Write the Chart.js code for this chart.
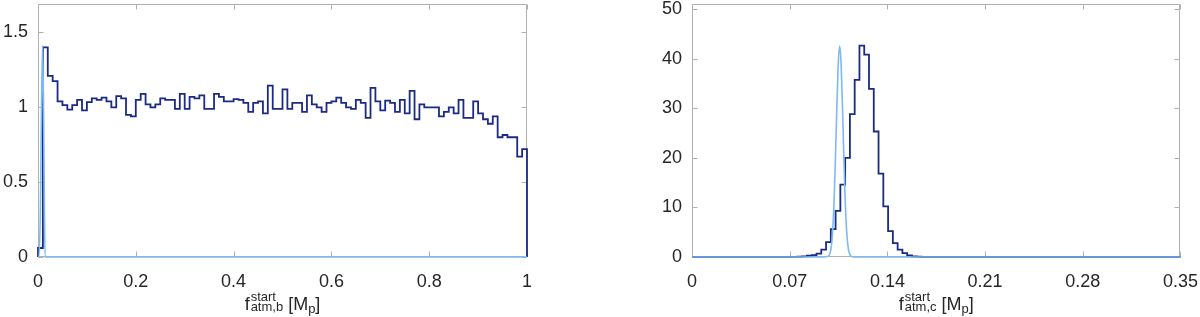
<!DOCTYPE html>
<html>
<head>
<meta charset="utf-8">
<script src="https://cdn.jsdelivr.net/npm/chart.js@4.4.1/dist/chart.umd.min.js"></script>
<style>
html, body { margin: 0; padding: 0; background: #fff; }
#wrap { position: relative; width: 1200px; height: 317px; overflow: hidden; }
.panel { position: absolute; top: 0; height: 317px; }
#pb { left: 0; width: 580px; }
#pc { left: 580px; width: 632px; }
</style>
</head>
<body>
<div id="wrap">
  <div class="panel" id="pb"><canvas id="cb"></canvas></div>
  <div class="panel" id="pc"><canvas id="cc"></canvas></div>
</div>
<script>
// left panel: posterior histogram of f_atm,b (100 bins of 0.01) and prior spike
const binStartB = 0;
const binWidthB = 0.01;
const densB = [
  0.06, 1.40, 1.21, 1.175, 1.04, 1.015, 0.985, 1.015, 1.05, 0.98,
  1.035, 1.06, 1.05, 1.065, 1.04, 1.00, 1.075, 1.06, 0.95, 0.94,
  1.05, 1.09, 1.02, 1.00, 1.02, 1.06, 1.05, 1.05, 0.99, 1.09,
  0.99, 1.07, 1.06, 1.08, 0.99, 0.99, 1.09, 1.07, 1.04, 1.04,
  1.055, 1.05, 1.03, 0.97, 1.03, 1.04, 0.96, 1.145, 0.99, 0.99,
  1.12, 0.99, 1.03, 1.03, 0.97, 1.08, 1.02, 1.00, 0.97, 1.03,
  1.04, 1.065, 1.03, 1.00, 0.99, 1.05, 1.03, 0.93, 1.13, 1.04,
  0.98, 1.045, 1.03, 0.97, 1.05, 0.96, 1.11, 0.92, 1.02, 1.00,
  1.00, 1.00, 0.94, 0.97, 1.00, 0.96, 1.05, 0.93, 0.93, 1.04,
  0.96, 0.92, 0.89, 0.94, 0.80, 0.815, 0.80, 0.80, 0.67, 0.72
];
const priorBx = [0, 0.002, 0.005, 0.007, 0.0093, 0.0115, 0.013, 0.0145, 1];
const priorBy = [0, 0, 0.35, 0.95, 1.41, 0.95, 0.35, 0, 0];
const xTicksB = [0, 0.2, 0.4, 0.6, 0.8, 1];
const xLabelsB = ['0', '0.2', '0.4', '0.6', '0.8', '1'];
const yTicksB = [0, 0.5, 1, 1.5];
const yLabelsB = ['0', '0.5', '1', '1.5'];

// right panel: posterior histogram of f_atm,c and gaussian prior
const binStartC = 0.0721;
const binWidthC = 0.00342;
const densC = [
  0.02, 0.05, 0.12, 0.25, 0.35, 0.7, 1.5, 3.0, 5.6, 9.3,
  14.6, 20.0, 28.8, 35.7, 42.6, 40.8, 33.9, 25.3, 16.8, 10.2,
  5.2, 2.8, 1.5, 0.8, 0.3, 0.1, 0.05
];
const priorCx = [0, 0.094, 0.0977, 0.0997, 0.1007, 0.1017, 0.1027, 0.1037, 0.1047, 0.1058,
  0.1067, 0.1077, 0.1087, 0.1097, 0.1107, 0.1117, 0.1127, 0.1147, 0.118, 0.35];
const priorCy = [0, 0, 0.18, 1.9, 4.9, 10.5, 19.1, 29.4, 38.4, 42.5,
  39.7, 31.5, 21.1, 12.0, 5.7, 2.3, 0.8, 0.06, 0, 0];
const xTicksC = [0, 0.07, 0.14, 0.21, 0.28, 0.35];
const xLabelsC = ['0', '0.07', '0.14', '0.21', '0.28', '0.35'];
const yTicksC = [0, 10, 20, 30, 40, 50];
const yLabelsC = ['0', '10', '20', '30', '40', '50'];

const darkBlue = '#1b2a84';
const lightBlue = '#7dbaf4';
const boxColor = '#b0b0b0';
const textColor = '#262626';
const fontFam = '"Liberation Sans", Arial, Helvetica, sans-serif';

// outline points at the bin edges; drawn with stepped 'before' (horizontal first)
function histPoints(start, width, vals, xmin, xmax) {
  const pts = [{x: xmin, y: 0}, {x: start, y: 0}];
  vals.forEach((v, i) => pts.push({x: start + i * width, y: v}));
  const end = start + vals.length * width;
  pts.push({x: end, y: vals[vals.length - 1]});
  pts.push({x: end, y: 0});
  pts.push({x: xmax, y: 0});
  return pts;
}

function zipPoints(xs, ys) {
  return xs.map((x, i) => ({x: x, y: ys[i]}));
}

// MATLAB style box with inward tick marks on all four sides
const boxPlugin = {
  id: 'boxPlugin',
  beforeDatasetsDraw(chart) {
    const ctx = chart.ctx;
    const a = chart.chartArea;
    const xs = chart.scales.x, ys = chart.scales.y;
    const tl = 5;
    ctx.save();
    ctx.strokeStyle = boxColor;
    ctx.lineWidth = 1;
    ctx.beginPath();
    const L = Math.round(a.left) + 0.5, R = Math.round(a.right) - 0.5;
    const T = Math.round(a.top) + 0.5, B = Math.round(a.bottom) - 0.5;
    ctx.rect(L, T, R - L, B - T);
    xs.ticks.forEach(t => {
      const px = Math.round(xs.getPixelForValue(t.value)) + 0.5;
      ctx.moveTo(px, B); ctx.lineTo(px, B - tl);
      ctx.moveTo(px, T); ctx.lineTo(px, T + tl);
    });
    ys.ticks.forEach(t => {
      const py = Math.round(ys.getPixelForValue(t.value)) + 0.5;
      ctx.moveTo(L, py); ctx.lineTo(L + tl, py);
      ctx.moveTo(R, py); ctx.lineTo(R - tl, py);
    });
    ctx.stroke();
    ctx.restore();
  }
};

// x axis label f^{start}_{atm,x} [M_p] with super/subscripts
const labelPlugin = {
  id: 'labelPlugin',
  afterDraw(chart, args, opts) {
    const ctx = chart.ctx;
    const a = chart.chartArea;
    const main = '18px ' + fontFam;
    const small = '13px ' + fontFam;
    const base = 310;
    ctx.save();
    ctx.fillStyle = textColor;
    ctx.textBaseline = 'alphabetic';
    ctx.textAlign = 'left';
    ctx.font = main;
    const wf = ctx.measureText('f').width;
    const wb = ctx.measureText(' [M').width;
    const wc = ctx.measureText(']').width;
    ctx.font = small;
    const wsup = ctx.measureText('start').width;
    const wsub = ctx.measureText(opts.sub).width;
    const wp = ctx.measureText('p').width;
    const ws = Math.max(wsup, wsub);
    const total = wf + 1 + ws + wb + wp + wc;
    let x = (a.left + a.right) / 2 - total / 2;
    ctx.font = main;
    ctx.fillText('f', x, base);
    x += wf + 1;
    ctx.font = small;
    ctx.fillText('start', x, base - 9);
    ctx.fillText(opts.sub, x, base + 1);
    x += ws;
    ctx.font = main;
    ctx.fillText(' [M', x, base);
    x += wb;
    ctx.font = small;
    ctx.fillText('p', x, base + 3);
    x += wp;
    ctx.font = main;
    ctx.fillText(']', x, base);
    ctx.restore();
  }
};

function makeChart(id, cfg) {
  return new Chart(document.getElementById(id), {
    type: 'line',
    data: {
      datasets: [
        {
          data: cfg.prior,
          borderColor: lightBlue,
          borderWidth: 1.6,
          pointRadius: 0,
          fill: false,
          cubicInterpolationMode: 'monotone',
          clip: false
        },
        {
          data: cfg.hist,
          borderColor: darkBlue,
          borderWidth: 1.8,
          pointRadius: 0,
          fill: false,
          stepped: 'before',
          clip: false
        }
      ]
    },
    options: {
      responsive: true,
      maintainAspectRatio: false,
      animation: false,
      events: [],
      layout: {padding: {left: 0, top: 4, right: cfg.padRight, bottom: 0}},
      plugins: {
        legend: {display: false},
        tooltip: {enabled: false},
        labelPlugin: {sub: cfg.sub}
      },
      scales: {
        x: {
          type: 'linear',
          min: cfg.xmin,
          max: cfg.xmax,
          grid: {display: false, drawTicks: false},
          border: {display: false},
          afterBuildTicks: s => { s.ticks = cfg.xTicks.map(v => ({value: v})); },
          afterFit: s => { s.height = 60; },
          ticks: {
            padding: 14,
            maxRotation: 0,
            color: textColor,
            font: {family: fontFam, size: 18},
            callback: (v, i) => cfg.xLabels[i]
          }
        },
        y: {
          type: 'linear',
          min: 0,
          max: cfg.ymax,
          grid: {display: false, drawTicks: false},
          border: {display: false},
          afterBuildTicks: s => { s.ticks = cfg.yTicks.map(v => ({value: v})); },
          afterFit: s => { s.width = cfg.yWidth; s.paddingTop = 0; s.paddingBottom = 0; },
          ticks: {
            padding: 10,
            color: textColor,
            font: {family: fontFam, size: 18},
            callback: (v, i) => cfg.yLabels[i]
          }
        }
      }
    },
    plugins: [boxPlugin, labelPlugin]
  });
}

makeChart('cb', {
  prior: zipPoints(priorBx, priorBy),
  hist: histPoints(binStartB, binWidthB, densB, 0, 1),
  xmin: 0, xmax: 1, ymax: 1.69,
  xTicks: xTicksB, xLabels: xLabelsB,
  yTicks: yTicksB, yLabels: yLabelsB,
  yWidth: 38, padRight: 53,
  sub: 'atm,b'
});

makeChart('cc', {
  prior: zipPoints(priorCx, priorCy),
  hist: histPoints(binStartC, binWidthC, densC, 0, 0.35),
  xmin: 0, xmax: 0.35, ymax: 51,
  xTicks: xTicksC, xLabels: xLabelsC,
  yTicks: yTicksC, yLabels: yLabelsC,
  yWidth: 112, padRight: 20,
  sub: 'atm,c'
});
</script>
</body>
</html>
